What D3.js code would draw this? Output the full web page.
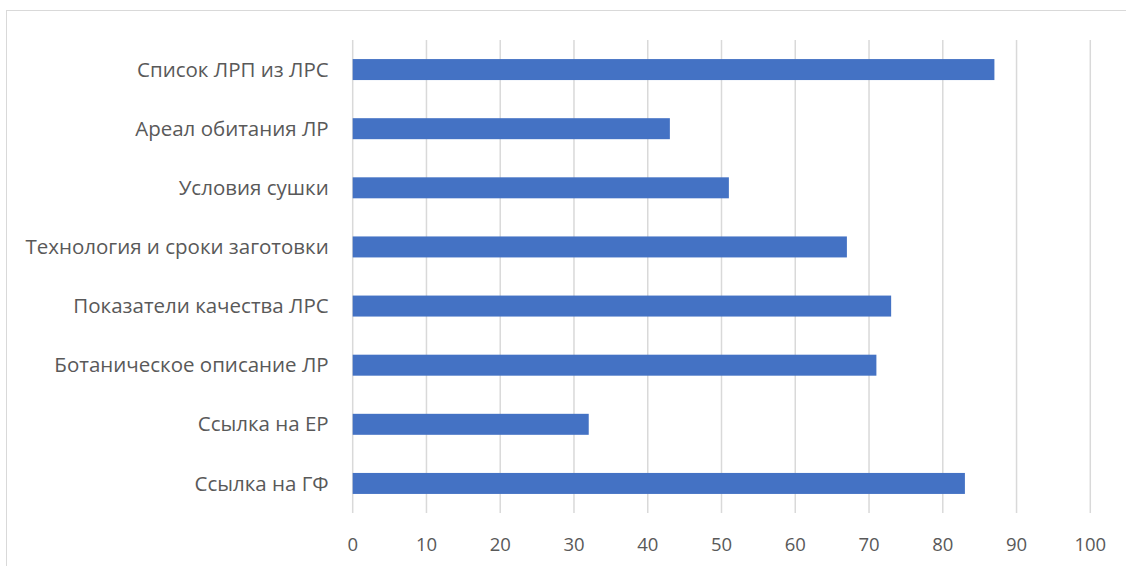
<!DOCTYPE html>
<html><head><meta charset="utf-8">
<script src="https://cdn.jsdelivr.net/npm/d3@7"></script>
<style>body{margin:0;background:#fff}svg{display:block}</style>
</head><body>
<script>
const categories = ["Список ЛРП из ЛРС","Ареал обитания ЛР","Условия сушки","Технология и сроки заготовки","Показатели качества ЛРС","Ботаническое описание ЛР","Ссылка на ЕР","Ссылка на ГФ"];
const values = [87,43,51,67,73,71,32,83];
const ticks = [0,10,20,30,40,50,60,70,80,90,100];

const W=1126,H=566;
const svg=d3.select("body").append("svg").attr("width",W).attr("height",H);
svg.append("rect").attr("x",6.5).attr("y",10.5).attr("width",W+10).attr("height",H+10)
  .attr("fill","none").attr("stroke","#d9d9d9").attr("stroke-width",1);
const x=d3.scaleLinear().domain([0,100]).range([352.7,1090.3]);
const y=d3.scaleBand().domain(categories).range([40,513]).paddingInner(0.645).paddingOuter(0.3225);
const font="'Open Sans', 'Liberation Sans', sans-serif";
svg.append("g").selectAll("line").data(ticks).join("line")
  .attr("x1",d=>x(d)).attr("x2",d=>x(d)).attr("y1",40).attr("y2",513)
  .attr("stroke","#d9d9d9").attr("stroke-width",1.5);
svg.append("g").selectAll("rect").data(values).join("rect")
  .attr("x",x(0)).attr("y",(d,i)=>y(categories[i])).attr("width",d=>x(d)-x(0)).attr("height",y.bandwidth())
  .attr("fill","#4472c4");
svg.append("g").selectAll("text").data(categories).join("text")
  .attr("x",x(0)-24).attr("y",d=>y(d)+y.bandwidth()/2).attr("dy","0.35em").attr("text-anchor","end")
  .attr("font-family",font).attr("font-size",20.5).attr("fill","#595959").text(d=>d);
svg.append("g").selectAll("text").data(ticks).join("text")
  .attr("x",d=>x(d)).attr("y",545).attr("dy","0.35em").attr("text-anchor","middle")
  .attr("font-family",font).attr("font-size",18.5).attr("fill","#595959").text(d=>d);
</script>
</body></html>
